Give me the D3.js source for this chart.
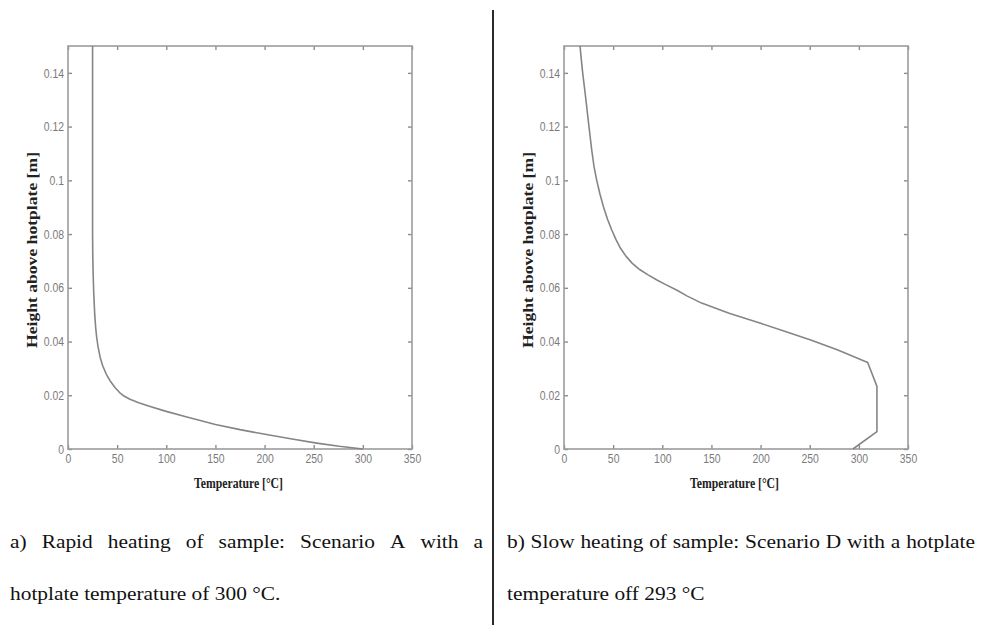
<!DOCTYPE html>
<html>
<head>
<meta charset="utf-8">
<script src="https://cdn.jsdelivr.net/npm/d3@7"></script>
<style>
  body { margin: 0; background: #fff; }
  svg { display: block; }
</style>
</head>
<body>
<svg id="fig" width="984" height="625"></svg>
<script>
// Vertical temperature profiles above a hotplate for two heating scenarios.
const xTicks = [0, 50, 100, 150, 200, 250, 300, 350];
const yTicks = [0, 0.02, 0.04, 0.06, 0.08, 0.1, 0.12, 0.14];

// Scenario A: rapid heating (height in m, temperature in °C)
const heightA = [0.15, 0.08, 0.072, 0.065, 0.058, 0.05, 0.045, 0.0415, 0.038, 0.034, 0.031, 0.0278, 0.025, 0.0228, 0.021, 0.0197, 0.0185, 0.0172, 0.016, 0.0141, 0.012, 0.0091, 0.0072, 0.0054, 0.0037, 0.0022, 0.001, 0];
const tempA   = [25,   25,   25.2,  25.6,  26.2,  27.2, 28.2,  29.2,   30.6,  32.8,  35.3,  39,     43.5,  48,     52.5,  57,     63,     72,     82,    99,     120,   150,    175,    202,    228,    253,    276,   300];

// Scenario D: slow heating (height in m, temperature in °C)
const heightD = [0.15, 0.145, 0.14, 0.134, 0.1274, 0.12, 0.1113, 0.105, 0.1, 0.095, 0.0902, 0.0855, 0.0815, 0.078, 0.0747, 0.0718, 0.0691, 0.0668, 0.0648, 0.0628, 0.0611, 0.0592, 0.057, 0.0543, 0.0505, 0.0468, 0.0436, 0.0406, 0.0369, 0.0322, 0.0233, 0.0065, 0];
const tempD   = [16.3, 17.6,  19,   21,    23.1,   25.4, 28.2,   30.6,  33.3, 36.5,  40.1,   44.3,   48.6,   52.8,  57.5,   63,     69.5,   77,     85.5,   95,     104,    114.5,  125,   140,    168,    200,    226,    251,    278,    309,    318.4,  318.4,  294];

const xLabel = "Temperature [°C]";
const yLabel = "Height above hotplate [m]";
const captionA = ["a) Rapid heating of sample:  Scenario A with a", "hotplate temperature of 300 °C."];
const captionD = ["b) Slow heating of sample: Scenario D with a hotplate", "temperature off 293 °C"];

const svg = d3.select("#fig");

const PANEL_W = 344, TOP = 46, BOTTOM = 449;
const frameColor = "#9c9c9c", tickColor = "#8c8c8c", labelGray = "#7a7a7a", curveColor = "#858585";

function squeeze(sel, factor) {
  sel.each(function () {
    const w = this.getComputedTextLength();
    d3.select(this).attr("textLength", w * factor).attr("lengthAdjust", "spacingAndGlyphs");
  });
}

function panel(left, heights, temps) {
  const x = d3.scaleLinear().domain([0, 350]).range([left, left + PANEL_W]);
  const y = d3.scaleLinear().domain([0, 0.15]).range([BOTTOM, TOP]);
  const g = svg.append("g");

  const fmtY = d => d === 0 ? "0" : String(+d.toFixed(2));
  const fmtX = d3.format("d");
  const none = () => "";

  function addAxis(axisFn, scale, fmt, tx, ty, pad) {
    const a = axisFn(scale).tickValues(scale === x ? xTicks : yTicks)
      .tickSizeInner(-4).tickSizeOuter(0).tickPadding(pad).tickFormat(fmt);
    const ag = g.append("g").attr("transform", `translate(${tx},${ty})`).call(a);
    ag.select(".domain").remove();
    ag.selectAll(".tick line").attr("stroke", tickColor).attr("stroke-width", 1.4);
    const t = ag.selectAll(".tick text")
      .attr("fill", labelGray)
      .attr("font-family", "Liberation Sans, Arial, sans-serif")
      .attr("font-size", 13);
    squeeze(t, 0.8);
    return ag;
  }

  addAxis(d3.axisBottom, x, fmtX, 0, BOTTOM, 5);
  addAxis(d3.axisTop, x, none, 0, TOP, 0);
  addAxis(d3.axisLeft, y, fmtY, left, 0, 4);
  addAxis(d3.axisRight, y, none, left + PANEL_W, 0, 0);

  g.append("rect")
    .attr("x", left).attr("y", TOP)
    .attr("width", PANEL_W).attr("height", BOTTOM - TOP)
    .attr("fill", "none").attr("stroke", frameColor).attr("stroke-width", 1.6);

  const line = d3.line()
    .x((d, i) => x(temps[i]))
    .y((d, i) => y(heights[i]))
    .curve(d3.curveLinear);
  g.append("path")
    .datum(heights)
    .attr("d", line)
    .attr("fill", "none")
    .attr("stroke", curveColor)
    .attr("stroke-width", 1.6)
    .attr("stroke-linejoin", "round");

  g.append("text")
    .attr("x", left + PANEL_W / 2 - 1.5).attr("y", 488)
    .attr("text-anchor", "middle")
    .attr("font-family", "Liberation Serif, Times New Roman, serif")
    .attr("font-weight", "bold").attr("font-size", 14)
    .attr("fill", "#222")
    .attr("textLength", 89).attr("lengthAdjust", "spacingAndGlyphs")
    .text(xLabel);

  g.append("text")
    .attr("transform", `translate(${left - 31},250) rotate(-90)`)
    .attr("text-anchor", "middle")
    .attr("font-family", "Liberation Serif, Times New Roman, serif")
    .attr("font-weight", "bold").attr("font-size", 14)
    .attr("fill", "#222")
    .attr("textLength", 196).attr("lengthAdjust", "spacingAndGlyphs")
    .text(yLabel);
}

panel(68, heightA, tempA);
panel(564, heightD, tempD);

// column divider
svg.append("line")
  .attr("x1", 493).attr("x2", 493).attr("y1", 10).attr("y2", 625)
  .attr("stroke", "#2a2a2a").attr("stroke-width", 2);

// captions: justified paragraph lines, last line set ragged
const CAP_SIZE = 19, CAP_STRETCH = 1.125;
function caption(lines, x0, width, baselines) {
  lines.forEach((line, li) => {
    const words = line.split(/\s+/);
    const justify = li < lines.length - 1;
    const nodes = words.map(w => svg.append("text")
      .attr("font-family", "Liberation Serif, Times New Roman, serif")
      .attr("font-size", CAP_SIZE)
      .attr("fill", "#111")
      .text(w));
    const widths = nodes.map(n => n.node().getComputedTextLength() * CAP_STRETCH);
    const total = d3.sum(widths);
    const gap = justify ? (width - total) / (words.length - 1) : CAP_SIZE * 0.25 * CAP_STRETCH;
    let cx = x0;
    nodes.forEach((n, i) => {
      n.attr("x", cx).attr("y", baselines[li])
        .attr("textLength", widths[i]).attr("lengthAdjust", "spacingAndGlyphs");
      cx += widths[i] + gap;
    });
  });
}

caption(captionA, 10, 473, [548, 600]);
caption(captionD, 507, 468, [548, 600]);
</script>
</body>
</html>
